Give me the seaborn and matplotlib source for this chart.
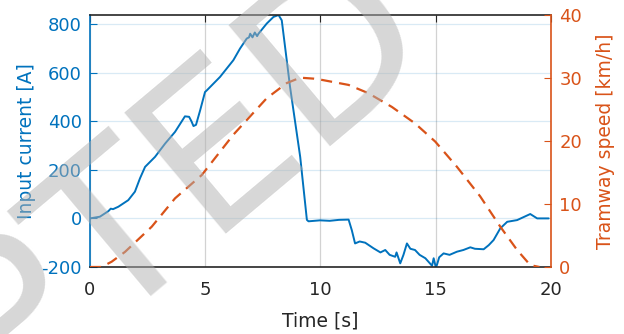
import numpy as np
import pandas as pd
import matplotlib
matplotlib.use("Agg")
import matplotlib.pyplot as plt
import seaborn as sns

# input current trace [A]
time_cur = [0.0, 0.43, 0.8, 0.9, 1.0, 1.23, 1.66, 1.95, 2.17, 2.39, 2.82, 3.26, 3.69,
            4.12, 4.3, 4.4, 4.49, 4.6, 4.78, 4.99, 5.07, 5.64, 6.22, 6.51, 6.8, 6.9,
            6.95, 7.05, 7.15, 7.25, 7.31, 7.67, 7.96, 8.18, 8.32, 8.68, 9.12, 9.41,
            9.48, 9.98, 10.4, 10.8, 11.22, 11.36, 11.5, 11.7, 11.94, 12.3, 12.6, 12.81,
            13.0, 13.24, 13.3, 13.46, 13.6, 13.75, 13.9, 14.1, 14.3, 14.55, 14.7, 14.84,
            14.91, 15.0, 15.05, 15.15, 15.34, 15.6, 15.92, 16.2, 16.5, 16.7, 17.08,
            17.3, 17.51, 17.8, 18.1, 18.53, 19.1, 19.4, 19.9]
current = [0, 7, 30, 40, 38, 48, 75, 110, 165, 212, 253, 308, 356,
           420, 418, 400, 380, 385, 445, 520, 527, 582, 651, 699, 740, 745,
           760, 745, 765, 750, 760, 802, 829, 837, 815, 541, 253, -6,
           -12, -8, -10, -6, -5, -49, -103, -95, -100, -123, -140, -130,
           -150, -158, -140, -185, -150, -103, -125, -130, -150, -164, -180, -195,
           -164, -200, -192, -160, -144, -150, -137, -130, -119, -125, -127,
           -110, -89, -41, -14, -7, 18, 0, 0]

# tramway speed [km/h]
time_spd = [0.0, 0.5, 0.94, 1.52, 2.68, 3.69, 4.85, 6.22, 7.67, 8.54, 9.12, 9.7,
            10.06, 11.22, 12.07, 13.1, 14.1, 14.98, 15.92, 16.93, 17.8, 18.53, 19.1, 19.5]
speed = [0, 0, 0.84, 2.4, 6.4, 10.9, 14.6, 21.0, 26.8, 29.2, 30.05, 29.9,
         29.7, 28.9, 27.6, 25.4, 22.8, 19.9, 15.9, 11.2, 6.4, 2.7, 0.3, 0]

x_ticks = [0, 5, 10, 15, 20]
cur_ticks = [-200, 0, 200, 400, 600, 800]
spd_ticks = [0, 10, 20, 30, 40]

BLUE = "#0072BD"
ORANGE = "#D95319"
DARK = "#262626"

sns.set_style("white")
plt.rcParams["font.family"] = ["DejaVu Sans"]

df_cur = pd.DataFrame({"t": time_cur, "i": current})
df_spd = pd.DataFrame({"t": time_spd, "v": speed})

fig = plt.figure(figsize=(6.24, 3.34), dpi=100)
ax = fig.add_axes([0.1442, 0.2006, 0.7388, 0.7545])
ax2 = ax.twinx()

sns.lineplot(data=df_cur, x="t", y="i", ax=ax, color=BLUE, lw=1.4,
             sort=False, estimator=None)
sns.lineplot(data=df_spd, x="t", y="v", ax=ax2, color=ORANGE, lw=1.6,
             sort=False, estimator=None, linestyle="--")
ax2.lines[0].set_dashes([5, 3.2])

ax.set_xlim(0, 20)
ax.set_ylim(-200, 837)
ax2.set_ylim(0, 40)
ax.set_xticks(x_ticks)
ax.set_yticks(cur_ticks)
ax2.set_yticks(spd_ticks)
ax.set_xticklabels([str(v) for v in x_ticks])
ax.set_yticklabels([str(v) for v in cur_ticks])
ax2.set_yticklabels([str(v) for v in spd_ticks])

ax.grid(axis="y", color=BLUE, alpha=0.15, lw=0.9)
ax.grid(axis="x", color="#808080", alpha=0.35, lw=0.9)

for s in ["top", "bottom"]:
    ax.spines[s].set_color(DARK)
    ax.spines[s].set_linewidth(1.2)
    ax2.spines[s].set_visible(False)
ax.spines["left"].set_color(BLUE)
ax.spines["left"].set_linewidth(1.2)
ax.spines["right"].set_visible(False)
ax2.spines["left"].set_visible(False)
ax2.spines["right"].set_color(ORANGE)
ax2.spines["right"].set_linewidth(1.2)

ax.tick_params(axis="x", direction="in", top=True, length=5, colors=DARK,
               labelsize=13, pad=10)
ax.tick_params(axis="y", direction="in", length=5, colors=BLUE, labelsize=13, pad=6)
ax2.tick_params(axis="y", direction="in", length=5, colors=ORANGE, labelsize=13, pad=6)

ax.set_xlabel("Time [s]", fontsize=13.5, color=DARK, labelpad=9)
ax.set_ylabel("Input current [A]", fontsize=13.5, color=BLUE, labelpad=4)
ax2.set_ylabel("Tramway speed [km/h]", fontsize=13.5, color=ORANGE, labelpad=10)

# faint watermark across the figure
fig.text(0.707, 0.844, "ACCEPTED", rotation=40, rotation_mode="anchor",
         ha="right", va="baseline", fontsize=155, color="#b0b0b0", alpha=0.5,
         zorder=20)

fig.savefig("out.png", dpi=100)
